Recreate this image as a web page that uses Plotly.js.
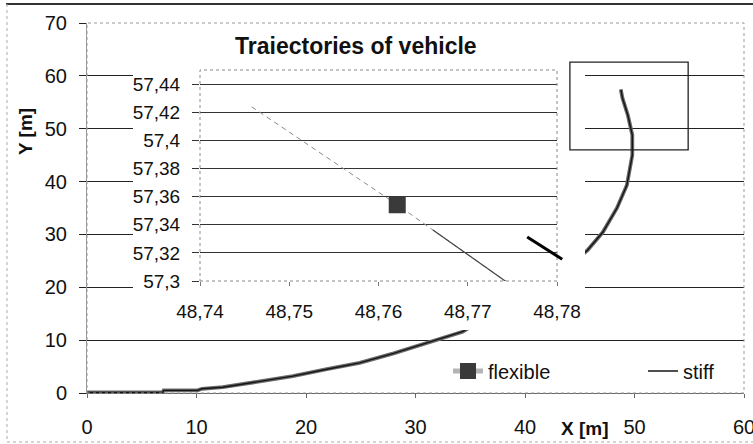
<!DOCTYPE html>
<html><head><meta charset="utf-8">
<script src="https://cdn.plot.ly/plotly-3.0.1.min.js"></script>
<style>html,body{margin:0;padding:0;background:#fff;}#chart{width:753px;height:444px;}</style>
</head><body><div id="chart"></div>
<script>
// ---- Main trajectory, X [m] / Y [m] ----
const flexibleX = [0, 3, 6.9, 7.0, 10.1, 10.5, 12.4, 15.5, 18.8, 21.9, 24.9, 28.0, 31.0, 34.3, 37.0, 42.0, 45.7, 47.1, 48.4, 49.3, 49.8, 49.8, 49.4, 48.9, 48.746];
const flexibleY = [0.1, 0.1, 0.1, 0.5, 0.5, 0.8, 1.1, 2.1, 3.2, 4.5, 5.7, 7.5, 9.4, 11.6, 15.0, 20.5, 27.0, 30.4, 35.0, 39.3, 45.0, 48.8, 52.5, 55.8, 57.424];
const stiffX = [0, 3, 6.9, 7.0, 10.1, 10.5, 12.4, 15.5, 18.8, 21.9, 24.9, 28.0, 31.0, 34.3, 37.0, 42.0, 45.7, 47.1, 48.4, 49.3, 49.8, 49.8, 49.4, 48.9, 48.766];
const stiffY = [0.1, 0.1, 0.1, 0.5, 0.5, 0.8, 1.1, 2.1, 3.2, 4.5, 5.7, 7.5, 9.4, 11.6, 15.0, 20.5, 27.0, 30.4, 35.0, 39.3, 45.0, 48.8, 52.5, 55.8, 57.336];

// ---- Inset (zoom of trajectory end) ----
const insetFlexX = [48.7458, 48.7621, 48.7752];
const insetFlexY = [57.4238, 57.3542, 57.2955];
const insetFlexMarkerX = [48.7621];
const insetFlexMarkerY = [57.3542];
const insetStiffX = [48.7661, 48.7742, 48.7760];
const insetStiffY = [57.3363, 57.3000, 57.2919];

// ---- Axis ticks ----
const mainXTicks = [0, 10, 20, 30, 40, 50, 60];
const mainYTicks = [0, 10, 20, 30, 40, 50, 60, 70];
const mainYGrid = [10, 20, 30, 40, 50, 60];
const insetXTickVals = [48.74, 48.75, 48.76, 48.77, 48.78];
const insetXTickText = ['48,74', '48,75', '48,76', '48,77', '48,78'];
const insetYTickVals = [57.30, 57.32, 57.34, 57.36, 57.38, 57.40, 57.42, 57.44];
const insetYTickText = ['57,3', '57,32', '57,34', '57,36', '57,38', '57,4', '57,42', '57,44'];

// ---- Highlight box and pointer (main axes units) ----
const boxX = [44.1, 54.9];
const boxY = [46.0, 62.6];
const pointerX = [40.2, 43.4];
const pointerY = [29.5, 25.3];

const W = 753, H = 444;
const fx = px => px / W;
const fy = py => 1 - py / H;
const FONT = 'Liberation Sans, Arial, sans-serif';

const data = [
  { // legend entry for flexible (no data drawn)
    x: [null], y: [null], xaxis: 'x2', yaxis: 'y2', name: 'flexible',
    mode: 'lines+markers',
    line: {color: '#b4b4b4', width: 5},
    marker: {symbol: 'square', size: 16, color: '#3a3a3a'},
    hoverinfo: 'skip'
  },
  { // carries the grid-line axis of the main plot (no data drawn)
    x: [null], y: [null], xaxis: 'x', yaxis: 'y4', showlegend: false, hoverinfo: 'skip', mode: 'lines'
  },
  {
    x: flexibleX, y: flexibleY, xaxis: 'x', yaxis: 'y', name: 'flexible',
    mode: 'lines', line: {color: '#6a6a6a', width: 3.8}, showlegend: false
  },
  {
    x: stiffX, y: stiffY, xaxis: 'x', yaxis: 'y', name: 'stiff',
    mode: 'lines', line: {color: '#151515', width: 1.4}
  },
  {
    x: insetFlexX, y: insetFlexY, xaxis: 'x3', yaxis: 'y3', name: 'flexible',
    mode: 'lines', line: {color: '#8a8a8a', width: 1, dash: '5px,4px'}, showlegend: false
  },
  {
    x: insetFlexMarkerX, y: insetFlexMarkerY, xaxis: 'x3', yaxis: 'y3', name: 'flexible',
    mode: 'markers', marker: {symbol: 'square', size: 17, color: '#3a3a3a'}, showlegend: false
  },
  {
    x: insetStiffX, y: insetStiffY, xaxis: 'x3', yaxis: 'y3', name: 'stiff',
    mode: 'lines', line: {color: '#444', width: 1.2}, showlegend: false
  }
];

const tickFont = {family: FONT, size: 20, color: '#111'};
const insetTickFont = {family: FONT, size: 19, color: '#111'};

const layout = {
  width: W, height: H,
  margin: {l: 0, r: 0, t: 0, b: 0, pad: 0, autoexpand: false},
  paper_bgcolor: '#fff', plot_bgcolor: '#fff',
  showlegend: true,
  legend: {
    orientation: 'h', x: fx(448), xanchor: 'left', y: fy(371), yanchor: 'middle',
    font: {family: FONT, size: 20, color: '#111'}, bgcolor: 'rgba(0,0,0,0)',
    entrywidth: 150, traceorder: 'normal'
  },
  xaxis: {
    domain: [fx(87), fx(744)], range: [0, 60], tickvals: mainXTicks,
    showgrid: false, zeroline: false, showline: true, linecolor: '#666', linewidth: 1,
    ticks: 'outside', ticklen: 4, tickcolor: '#666', ticklabelstandoff: 12,
    ticklabeloverflow: 'allow',
    tickfont: tickFont, anchor: 'y', automargin: false, fixedrange: true
  },
  yaxis: {
    domain: [fy(393), fy(23)], range: [0, 70], tickvals: mainYTicks,
    showgrid: false, zeroline: false,
    showline: true, linecolor: '#999', linewidth: 1,
    ticks: 'outside', ticklen: 7, tickcolor: '#222', ticklabelstandoff: 8,
    tickfont: tickFont, anchor: 'x', automargin: false, fixedrange: true
  },
  // grid lines of the main plot (70 is the dotted frame instead)
  yaxis4: {
    overlaying: 'y', side: 'left', range: [0, 70], tickvals: mainYGrid, showticklabels: false, ticks: '',
    showgrid: true, gridcolor: '#222', gridwidth: 1, zeroline: false, showline: false,
    anchor: 'x', automargin: false, fixedrange: true
  },
  // blank panel that holds the inset (white background covering main plot)
  xaxis2: {domain: [fx(133), fx(585)], range: [0, 1], visible: false, anchor: 'y2', fixedrange: true},
  yaxis2: {domain: [fy(330), fy(30)], range: [0, 1], visible: false, anchor: 'x2', fixedrange: true},
  xaxis3: {
    domain: [fx(200), fx(557)], range: [48.74, 48.78],
    tickvals: insetXTickVals, ticktext: insetXTickText,
    showgrid: false, zeroline: false, showline: false,
    ticks: 'outside', ticklen: 4, tickcolor: '#777', ticklabelstandoff: 9,
    tickfont: insetTickFont, anchor: 'y3', automargin: false, fixedrange: true
  },
  yaxis3: {
    domain: [fy(281), fy(70)], range: [57.30, 57.45],
    tickvals: insetYTickVals, ticktext: insetYTickText,
    showgrid: true, gridcolor: '#333', gridwidth: 1, zeroline: false, showline: false,
    ticks: 'outside', ticklen: 7, tickcolor: '#333', ticklabelstandoff: 8,
    tickfont: insetTickFont, anchor: 'x3', automargin: false, fixedrange: true
  },
  shapes: [
    {type: 'rect', xref: 'x domain', yref: 'y domain', x0: 0, x1: 1, y0: 0, y1: 1,
     line: {color: '#999', width: 1, dash: 'dot'}, layer: 'above'},
    {type: 'rect', xref: 'x3 domain', yref: 'y3 domain', x0: 0, x1: 1, y0: 0, y1: 1,
     line: {color: '#888', width: 1, dash: 'dot'}, layer: 'above'},
    {type: 'rect', xref: 'x', yref: 'y', x0: boxX[0], x1: boxX[1], y0: boxY[0], y1: boxY[1],
     line: {color: '#222', width: 1.3}, layer: 'above'},
    {type: 'line', xref: 'x', yref: 'y', x0: pointerX[0], x1: pointerX[1], y0: pointerY[0], y1: pointerY[1],
     line: {color: '#000', width: 3}, layer: 'above'},
    {type: 'line', xref: 'paper', yref: 'paper', x0: fx(6), x1: 1, y0: fy(4), y1: fy(4),
     line: {color: '#333', width: 2}},
    {type: 'line', xref: 'paper', yref: 'paper', x0: fx(7), x1: fx(7), y0: fy(4), y1: fy(442),
     line: {color: '#aaa', width: 1, dash: 'dot'}},
    {type: 'line', xref: 'paper', yref: 'paper', x0: fx(7), x1: 1, y0: fy(442), y1: fy(442),
     line: {color: '#aaa', width: 1, dash: 'dot'}}
  ],
  annotations: [
    {text: '<b>Traiectories of vehicle</b>', xref: 'paper', yref: 'paper', x: fx(356), y: fy(46),
     xanchor: 'center', yanchor: 'middle', showarrow: false,
     font: {family: FONT, size: 23, color: '#111'}},
    {text: '<b>Y [m]</b>', xref: 'paper', yref: 'paper', x: fx(25), y: fy(132), textangle: -90,
     xanchor: 'center', yanchor: 'middle', showarrow: false,
     font: {family: FONT, size: 19, color: '#111'}},
    {text: '<b>X [m]</b>', xref: 'paper', yref: 'paper', x: fx(585), y: fy(428),
     xanchor: 'center', yanchor: 'middle', showarrow: false,
     font: {family: FONT, size: 19, color: '#111'}}
  ]
};

Plotly.newPlot('chart', data, layout, {staticPlot: true, displayModeBar: false});
</script>
</body></html>
